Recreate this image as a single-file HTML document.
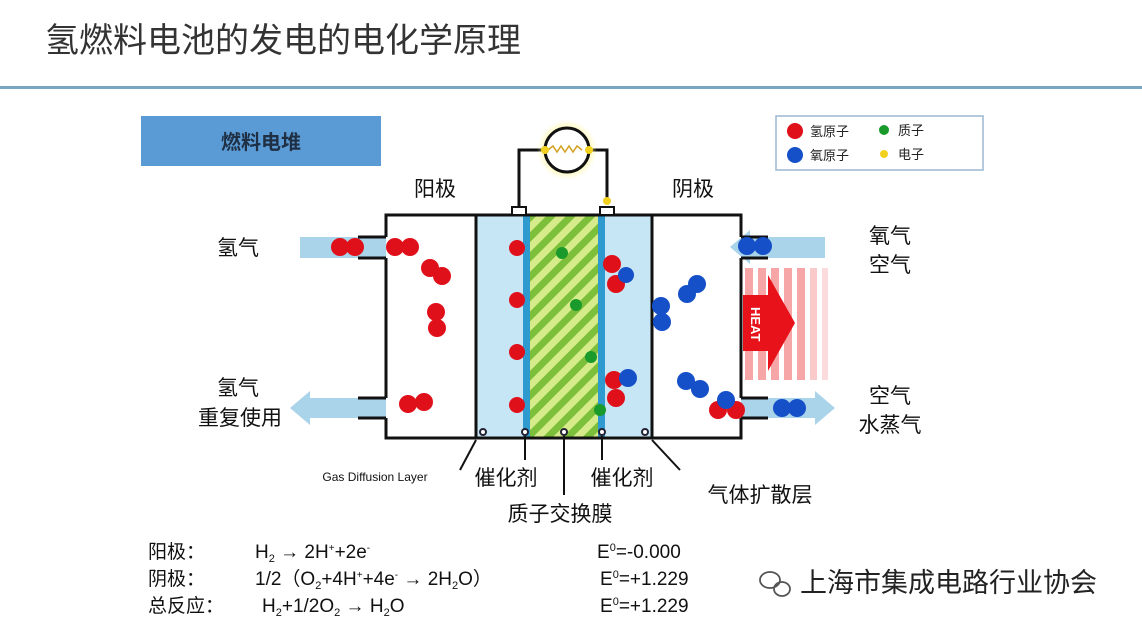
<!DOCTYPE html>
<html><head><meta charset="utf-8"><style>
body{margin:0;background:#fff;}
svg{display:block;font-family:"Liberation Sans","Noto Sans CJK SC",sans-serif;}
</style></head><body>
<svg width="1142" height="636" viewBox="0 0 1142 636" xmlns="http://www.w3.org/2000/svg">
<defs>
<pattern id="st" width="14" height="14" patternUnits="userSpaceOnUse" patternTransform="rotate(45)">
<rect width="14" height="14" fill="#7cbf3a"/><rect width="7" height="14" fill="#d6ec8a"/></pattern>
<radialGradient id="glow"><stop offset="0.6" stop-color="#fff7a0"/><stop offset="1" stop-color="#fff7a0" stop-opacity="0"/></radialGradient>
</defs>
<rect width="1142" height="636" fill="#fff"/>
<text x="45" y="52" font-size="34" fill="#333">氢燃料电池的发电的电化学原理</text>
<rect x="0" y="86" width="1142" height="3" fill="#7aa6c2"/>
<rect x="141" y="116" width="240" height="50" fill="#5b9bd5"/>
<text x="261" y="149" font-size="20" fill="#1f2f44" text-anchor="middle" font-weight="bold">燃料电堆</text>
<rect x="776" y="116" width="207" height="54" fill="#fff" stroke="#9bb7d0" stroke-width="1.5"/>
<circle cx="795" cy="131" r="8" fill="#e0101a"/><text x="810" y="136" font-size="13" fill="#222">氢原子</text>
<circle cx="795" cy="155" r="8" fill="#1550c8"/><text x="810" y="160" font-size="13" fill="#222">氧原子</text>
<circle cx="884" cy="130" r="5" fill="#1a9a2a"/><text x="898" y="135" font-size="13" fill="#222">质子</text>
<circle cx="884" cy="154" r="4" fill="#f2d020"/><text x="898" y="159" font-size="13" fill="#222">电子</text>
<rect x="300" y="237" width="86" height="21" fill="#a9d4ea"/>
<polygon points="386,398 310,398 310,391 290,408 310,425 310,418 386,418" fill="#a9d4ea"/>
<polygon points="741,237 760,237 760,230 740,247 760,264 760,258 835,258 835,237" fill="#a9d4ea" transform="translate(-10,0)"/>
<polygon points="741,398 815,398 815,391 835,408 815,425 815,418 741,418" fill="#a9d4ea"/>
<g fill="#f6a6a6">
<rect x="745" y="268" width="8" height="112"/><rect x="758" y="268" width="8" height="112"/><rect x="771" y="268" width="8" height="112"/><rect x="784" y="268" width="8" height="112"/><rect x="797" y="268" width="8" height="112"/><rect x="810" y="268" width="7" height="112" opacity=".6"/><rect x="822" y="268" width="6" height="112" opacity=".4"/>
</g>
<polygon points="743,295 768,295 768,275 795,323 768,371 768,351 743,351" fill="#e8131a"/>
<text x="0" y="0" font-size="13" font-weight="bold" fill="#fff" transform="translate(751,307) rotate(90)">HEAT</text>
<rect x="476" y="215" width="176" height="223" fill="#c7e6f5"/>
<rect x="530" y="215" width="70" height="223" fill="url(#st)"/>
<rect x="523" y="215" width="7" height="223" fill="#2f9ad0"/>
<rect x="598" y="215" width="7" height="223" fill="#2f9ad0"/>
<g fill="none" stroke="#111" stroke-width="3">
<path d="M386,237 V215 H741 V237 M386,258 V398 M386,418 V438 H741 V418 M741,258 V398"/>
<path d="M358,237 H386 M358,258 H386 M358,398 H386 M358,418 H386"/>
<path d="M741,237 H768 M741,258 H768 M741,398 H768 M741,418 H768"/>
<line x1="476" y1="215" x2="476" y2="438"/><line x1="652" y1="215" x2="652" y2="438"/>
<path d="M519,207 V150 H545 M589,150 H607 V200"/>
</g>
<rect x="512" y="207" width="14" height="8" fill="#fff" stroke="#111" stroke-width="2"/>
<rect x="600" y="207" width="14" height="8" fill="#fff" stroke="#111" stroke-width="2"/>
<circle cx="607" cy="201" r="4" fill="#f2d020"/>
<circle cx="567" cy="150" r="30" fill="url(#glow)"/>
<circle cx="567" cy="150" r="22" fill="#fff" stroke="#111" stroke-width="3"/>
<path d="M548,150 l5,-4 4,6 4,-6 4,6 4,-6 4,6 4,-6 5,4" fill="none" stroke="#d4a020" stroke-width="1.5"/>
<circle cx="545" cy="150" r="4" fill="#f2d020"/><circle cx="589" cy="150" r="4" fill="#f2d020"/>
<g fill="#fff" stroke="#223" stroke-width="2">
<circle cx="483" cy="432" r="3"/><circle cx="525" cy="432" r="3"/><circle cx="564" cy="432" r="3"/><circle cx="602" cy="432" r="3"/><circle cx="645" cy="432" r="3"/>
</g>
<g stroke="#111" stroke-width="2">
<line x1="476" y1="440" x2="460" y2="470"/><line x1="525" y1="436" x2="525" y2="460"/><line x1="564" y1="436" x2="564" y2="495"/><line x1="602" y1="436" x2="602" y2="460"/><line x1="652" y1="440" x2="680" y2="470"/>
</g>
<g fill="#e0101a">
<circle cx="340" cy="247" r="9"/><circle cx="355" cy="247" r="9"/>
<circle cx="395" cy="247" r="9"/><circle cx="410" cy="247" r="9"/>
<circle cx="430" cy="268" r="9"/><circle cx="442" cy="276" r="9"/>
<circle cx="436" cy="312" r="9"/><circle cx="437" cy="328" r="9"/>
<circle cx="408" cy="404" r="9"/><circle cx="424" cy="402" r="9"/>
<circle cx="517" cy="248" r="8"/><circle cx="517" cy="300" r="8"/><circle cx="517" cy="352" r="8"/><circle cx="517" cy="405" r="8"/>
<circle cx="612" cy="264" r="9"/><circle cx="616" cy="284" r="9"/>
<circle cx="614" cy="380" r="9"/><circle cx="616" cy="398" r="9"/>
<circle cx="718" cy="410" r="9"/><circle cx="736" cy="410" r="9"/>
</g>
<g fill="#1550c8">
<circle cx="747" cy="246" r="9"/><circle cx="763" cy="246" r="9"/>
<circle cx="687" cy="294" r="9"/><circle cx="697" cy="284" r="9"/>
<circle cx="661" cy="306" r="9"/><circle cx="662" cy="322" r="9"/>
<circle cx="626" cy="275" r="8"/><circle cx="628" cy="378" r="9"/>
<circle cx="686" cy="381" r="9"/><circle cx="700" cy="389" r="9"/>
<circle cx="726" cy="400" r="9"/>
<circle cx="782" cy="408" r="9"/><circle cx="797" cy="408" r="9"/>
</g>
<g fill="#1a9a2a"><circle cx="562" cy="253" r="6"/><circle cx="576" cy="305" r="6"/><circle cx="591" cy="357" r="6"/><circle cx="600" cy="410" r="6"/></g>
<g font-size="21" fill="#111" text-anchor="middle">
<text x="435" y="196">阳极</text><text x="693" y="196">阴极</text>
<text x="238" y="255">氢气</text>
<text x="238" y="395">氢气</text><text x="240" y="425">重复使用</text>
<text x="890" y="243">氧气</text><text x="890" y="272">空气</text>
<text x="890" y="403">空气</text><text x="890" y="432">水蒸气</text>
<text x="506" y="485">催化剂</text><text x="622" y="485">催化剂</text>
<text x="560" y="521">质子交换膜</text><text x="760" y="502">气体扩散层</text>
</g>
<text x="375" y="481" font-size="12" fill="#111" text-anchor="middle">Gas Diffusion Layer</text>
<g font-size="19" fill="#111">
<text x="148" y="558">阳极：</text><text x="255" y="558">H<tspan font-size="11" dy="4">2</tspan><tspan dy="-4"> → 2H</tspan><tspan font-size="10" dy="-7">+</tspan><tspan dy="7">+2e</tspan><tspan font-size="10" dy="-7">-</tspan></text>
<text x="148" y="585">阴极：</text><text x="255" y="585">1/2（O<tspan font-size="11" dy="4">2</tspan><tspan dy="-4">+4H</tspan><tspan font-size="10" dy="-7">+</tspan><tspan dy="7">+4e</tspan><tspan font-size="10" dy="-7">-</tspan><tspan dy="7"> → 2H</tspan><tspan font-size="11" dy="4">2</tspan><tspan dy="-4">O）</tspan></text>
<text x="148" y="612">总反应：</text><text x="262" y="612">H<tspan font-size="11" dy="4">2</tspan><tspan dy="-4">+1/2O</tspan><tspan font-size="11" dy="4">2</tspan><tspan dy="-4"> → H</tspan><tspan font-size="11" dy="4">2</tspan><tspan dy="-4">O</tspan></text>
<text x="597" y="558">E<tspan font-size="11" dy="-7">0</tspan><tspan dy="7">=-0.000</tspan></text>
<text x="600" y="585">E<tspan font-size="11" dy="-7">0</tspan><tspan dy="7">=+1.229</tspan></text>
<text x="600" y="612">E<tspan font-size="11" dy="-7">0</tspan><tspan dy="7">=+1.229</tspan></text>
</g>
<g fill="none" stroke="#555" stroke-width="1.8">
<ellipse cx="770" cy="580" rx="10" ry="8"/><ellipse cx="782" cy="589" rx="8" ry="7"/>
</g>
<text x="800" y="592" font-size="27" fill="#222">上海市集成电路行业协会</text>
</svg>
</body></html>
